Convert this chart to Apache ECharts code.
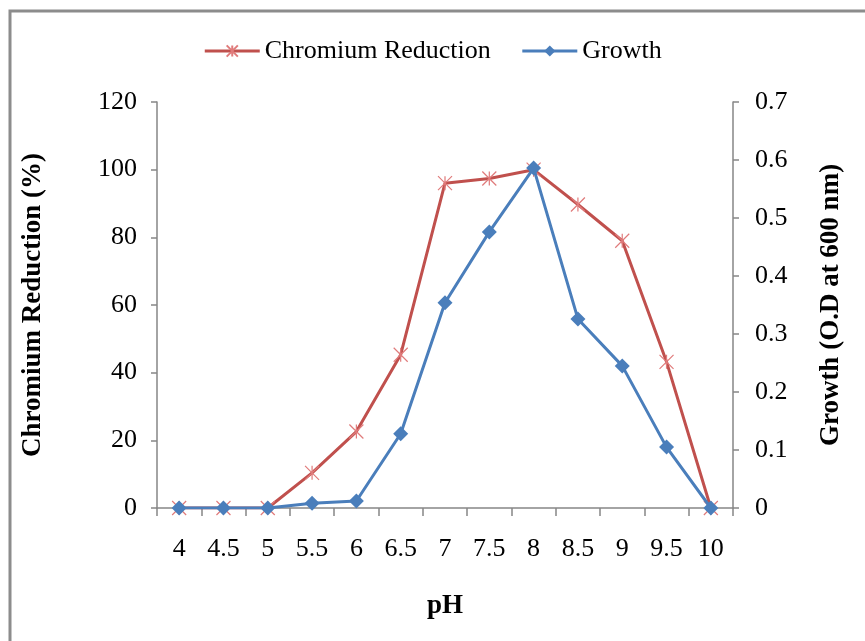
<!DOCTYPE html>
<html>
<head>
<meta charset="utf-8">
<script src="https://cdn.jsdelivr.net/npm/echarts@6/dist/echarts.min.js"></script>
<style>html,body{margin:0;padding:0;background:#fff}#c{width:865px;height:641px}</style>
</head>
<body>
<div id="c"></div>
<script>
var categories = ['4','4.5','5','5.5','6','6.5','7','7.5','8','8.5','9','9.5','10'];
var chromiumReduction = [0, 0, 0, 10.4, 22.6, 45.3, 96, 97.4, 100, 89.7, 79, 43.2, 0];
var growth = [0, 0, 0, 0.008, 0.012, 0.128, 0.354, 0.476, 0.586, 0.326, 0.245, 0.105, 0];

var font = 'Liberation Serif';
var axisGray = '#868686';
var chart = echarts.init(document.getElementById('c'), null, {renderer: 'canvas'});
chart.setOption({
  animation: false,
  backgroundColor: '#fff',
  textStyle: {fontFamily: font},
  graphic: [{
    type: 'rect', shape: {x: 10, y: 11, width: 900, height: 700},
    style: {fill: 'none', stroke: '#8c8c8c', lineWidth: 3}, silent: true
  }],
  legend: {
    top: 33, left: 'center', itemWidth: 55, itemHeight: 14, itemGap: 30,
    lineStyle: {width: 3},
    textStyle: {fontFamily: font, fontSize: 26, color: '#000'},
    data: ['Chromium Reduction', 'Growth']
  },
  grid: {left: 157, right: 132, top: 102, bottom: 133},
  xAxis: {
    type: 'category', data: categories, boundaryGap: true,
    name: 'pH', nameLocation: 'middle', nameGap: 85,
    nameTextStyle: {fontFamily: font, fontSize: 27, fontWeight: 'bold', color: '#000'},
    axisLine: {lineStyle: {color: axisGray, width: 1.5}},
    axisTick: {show: true, length: 8, lineStyle: {color: axisGray, width: 1.5}},
    axisLabel: {fontFamily: font, fontSize: 26, color: '#000', margin: 28}
  },
  yAxis: [{
    type: 'value', min: 0, max: 120, interval: 20, position: 'left',
    name: 'Chromium Reduction (%)', nameLocation: 'middle', nameGap: 110,
    nameTextStyle: {fontFamily: font, fontSize: 27, fontWeight: 'bold', color: '#000'},
    axisLine: {show: true, lineStyle: {color: axisGray, width: 1.5}},
    axisTick: {show: true, length: 6, lineStyle: {color: axisGray, width: 1.5}},
    splitLine: {show: false},
    axisLabel: {fontFamily: font, fontSize: 26, color: '#000', margin: 20}
  }, {
    type: 'value', min: 0, max: 0.7, interval: 0.1, position: 'right',
    name: 'Growth (O.D at 600 nm)', nameLocation: 'middle', nameGap: 85,
    nameTextStyle: {fontFamily: font, fontSize: 27, fontWeight: 'bold', color: '#000'},
    axisLine: {show: true, lineStyle: {color: axisGray, width: 1.5}},
    axisTick: {show: true, length: 6, lineStyle: {color: axisGray, width: 1.5}},
    splitLine: {show: false},
    axisLabel: {fontFamily: font, fontSize: 26, color: '#000', margin: 22}
  }],
  series: [{
    name: 'Chromium Reduction', type: 'line', yAxisIndex: 0, data: chromiumReduction,
    symbol: 'path://M0,0L10,10M10,0L0,10M5,0L5,10', symbolSize: 14, showAllSymbol: true,
    lineStyle: {color: '#C0504D', width: 3},
    itemStyle: {color: '#E07B7B', borderColor: '#E07B7B', borderWidth: 1.2},
    z: 2
  }, {
    name: 'Growth', type: 'line', yAxisIndex: 1, data: growth,
    symbol: 'diamond', symbolSize: 15, showAllSymbol: true,
    lineStyle: {color: '#4A7EBB', width: 3},
    itemStyle: {color: '#4A7EBB', borderColor: '#4A7EBB', borderWidth: 0},
    z: 3
  }]
});
</script>
</body>
</html>
